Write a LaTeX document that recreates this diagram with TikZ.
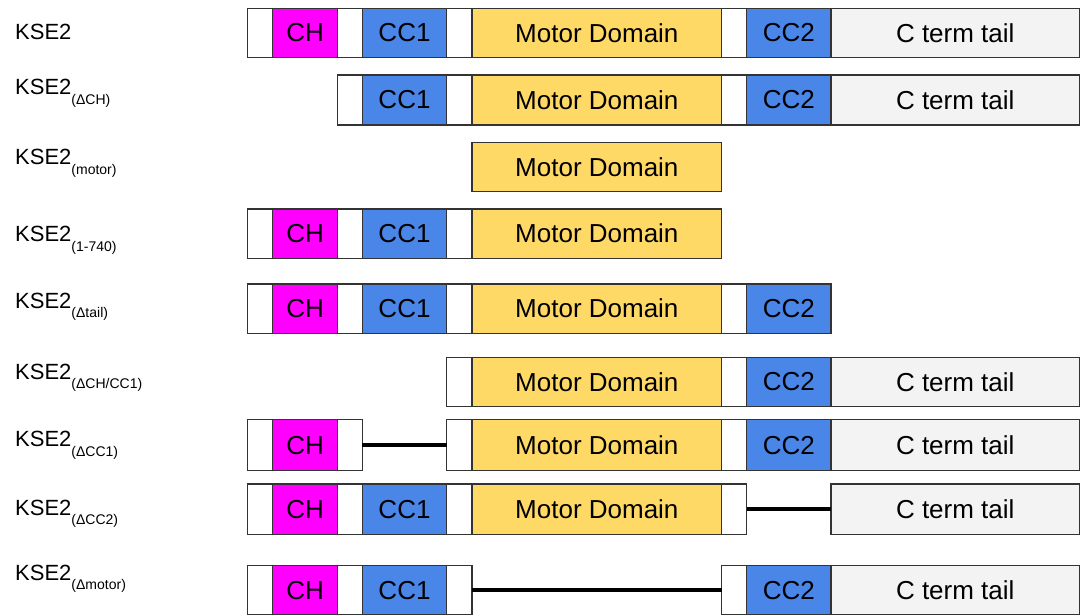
\documentclass[tikz,border=0pt]{standalone}
\usepackage{fontspec}
\setmainfont{Liberation Sans}
\definecolor{chc}{HTML}{FF00FF}
\definecolor{ccc}{HTML}{4A86E8}
\definecolor{mdc}{HTML}{FFD966}
\definecolor{tlc}{HTML}{F3F3F3}
\definecolor{edge}{HTML}{333333}
\tikzset{
  seg/.style={draw=edge, line width=1.2pt, inner sep=0pt, outer sep=0pt,
    font=\fontsize{26}{26}\selectfont, text=black},
  wbox/.style={seg, fill=white},
  chbox/.style={seg, fill=chc},
  ccbox/.style={seg, fill=ccc},
  mdbox/.style={seg, fill=mdc},
  tlbox/.style={seg, fill=tlc},
  gap/.style={line width=4.5pt, black},
  lbl/.style={anchor=base west, inner sep=0pt, font=\fontsize{22}{22}\selectfont}
}
% name, x1, x2, y1, y2, style, text
\newcommand\seg[7]{\node[#6, minimum width={(#3-#2)*1pt}, minimum height={(#5-#4)*1pt}] (#1) at ({(#2+#3)/2},{(#4+#5)/2}) {#7};}
\newcommand\sublbl[1]{\raisebox{-9.5pt}{\fontsize{14}{14}\selectfont(#1)}}
\begin{document}
\begin{tikzpicture}[x=1pt,y=-1pt]
\useasboundingbox (0,0) rectangle (1080,615);
% column edges
\def\xa{247.5}\def\xb{272.5}\def\xc{337.7}\def\xd{362.3}\def\xe{446.7}
\def\xf{472}\def\xg{721.7}\def\xh{746.7}\def\xi{831}\def\xj{1079.5}
% labels
\node[lbl] (l1) at (15,40) {KSE2};
\node[lbl] (l2) at (15,95) {KSE2\sublbl{ΔCH}};
\node[lbl] (l3) at (15,165) {KSE2\sublbl{motor}};
\node[lbl] (l4) at (15,241.7) {KSE2\sublbl{1-740}};
\node[lbl] (l5) at (15,308) {KSE2\sublbl{Δtail}};
\node[lbl] (l6) at (15,379) {KSE2\sublbl{ΔCH/CC1}};
\node[lbl] (l7) at (15,446.7) {KSE2\sublbl{ΔCC1}};
\node[lbl] (l8) at (15,515) {KSE2\sublbl{ΔCC2}};
\node[lbl] (l9) at (15,580) {KSE2\sublbl{Δmotor}};
% row 1
\def\ya{8.3}\def\yb{57.7}
\seg{r1a}{\xa}{\xb}{\ya}{\yb}{wbox}{}
\seg{r1b}{\xb}{\xc}{\ya}{\yb}{chbox}{CH}
\seg{r1c}{\xc}{\xd}{\ya}{\yb}{wbox}{}
\seg{r1d}{\xd}{\xe}{\ya}{\yb}{ccbox}{CC1}
\seg{r1e}{\xe}{\xf}{\ya}{\yb}{wbox}{}
\seg{r1f}{\xf}{\xg}{\ya}{\yb}{mdbox}{Motor Domain}
\seg{r1g}{\xg}{\xh}{\ya}{\yb}{wbox}{}
\seg{r1h}{\xh}{\xi}{\ya}{\yb}{ccbox}{CC2}
\seg{r1i}{\xi}{\xj}{\ya}{\yb}{tlbox}{C term tail}
% row 2
\def\ya{75}\def\yb{125}
\seg{r2c}{\xc}{\xd}{\ya}{\yb}{wbox}{}
\seg{r2d}{\xd}{\xe}{\ya}{\yb}{ccbox}{CC1}
\seg{r2e}{\xe}{\xf}{\ya}{\yb}{wbox}{}
\seg{r2f}{\xf}{\xg}{\ya}{\yb}{mdbox}{Motor Domain}
\seg{r2g}{\xg}{\xh}{\ya}{\yb}{wbox}{}
\seg{r2h}{\xh}{\xi}{\ya}{\yb}{ccbox}{CC2}
\seg{r2i}{\xi}{\xj}{\ya}{\yb}{tlbox}{C term tail}
% row 3
\def\ya{142.3}\def\yb{191.7}
\seg{r3f}{\xf}{\xg}{\ya}{\yb}{mdbox}{Motor Domain}
% row 4
\def\ya{209}\def\yb{258.3}
\seg{r4a}{\xa}{\xb}{\ya}{\yb}{wbox}{}
\seg{r4b}{\xb}{\xc}{\ya}{\yb}{chbox}{CH}
\seg{r4c}{\xc}{\xd}{\ya}{\yb}{wbox}{}
\seg{r4d}{\xd}{\xe}{\ya}{\yb}{ccbox}{CC1}
\seg{r4e}{\xe}{\xf}{\ya}{\yb}{wbox}{}
\seg{r4f}{\xf}{\xg}{\ya}{\yb}{mdbox}{Motor Domain}
% row 5
\def\ya{284}\def\yb{333.3}
\seg{r5a}{\xa}{\xb}{\ya}{\yb}{wbox}{}
\seg{r5b}{\xb}{\xc}{\ya}{\yb}{chbox}{CH}
\seg{r5c}{\xc}{\xd}{\ya}{\yb}{wbox}{}
\seg{r5d}{\xd}{\xe}{\ya}{\yb}{ccbox}{CC1}
\seg{r5e}{\xe}{\xf}{\ya}{\yb}{wbox}{}
\seg{r5f}{\xf}{\xg}{\ya}{\yb}{mdbox}{Motor Domain}
\seg{r5g}{\xg}{\xh}{\ya}{\yb}{wbox}{}
\seg{r5h}{\xh}{\xi}{\ya}{\yb}{ccbox}{CC2}
% row 6
\def\ya{357.3}\def\yb{406.7}
\seg{r6e}{\xe}{\xf}{\ya}{\yb}{wbox}{}
\seg{r6f}{\xf}{\xg}{\ya}{\yb}{mdbox}{Motor Domain}
\seg{r6g}{\xg}{\xh}{\ya}{\yb}{wbox}{}
\seg{r6h}{\xh}{\xi}{\ya}{\yb}{ccbox}{CC2}
\seg{r6i}{\xi}{\xj}{\ya}{\yb}{tlbox}{C term tail}
% row 7
\def\ya{419.8}\def\yb{470.5}
\seg{r7a}{\xa}{\xb}{\ya}{\yb}{wbox}{}
\seg{r7b}{\xb}{\xc}{\ya}{\yb}{chbox}{CH}
\seg{r7c}{\xc}{\xd}{\ya}{\yb}{wbox}{}
\seg{r7e}{\xe}{\xf}{\ya}{\yb}{wbox}{}
\seg{r7f}{\xf}{\xg}{\ya}{\yb}{mdbox}{Motor Domain}
\seg{r7g}{\xg}{\xh}{\ya}{\yb}{wbox}{}
\seg{r7h}{\xh}{\xi}{\ya}{\yb}{ccbox}{CC2}
\seg{r7i}{\xi}{\xj}{\ya}{\yb}{tlbox}{C term tail}
\draw[gap] (r7c.east) -- (r7e.west);
% row 8
\def\ya{484}\def\yb{534.3}
\seg{r8a}{\xa}{\xb}{\ya}{\yb}{wbox}{}
\seg{r8b}{\xb}{\xc}{\ya}{\yb}{chbox}{CH}
\seg{r8c}{\xc}{\xd}{\ya}{\yb}{wbox}{}
\seg{r8d}{\xd}{\xe}{\ya}{\yb}{ccbox}{CC1}
\seg{r8e}{\xe}{\xf}{\ya}{\yb}{wbox}{}
\seg{r8f}{\xf}{\xg}{\ya}{\yb}{mdbox}{Motor Domain}
\seg{r8g}{\xg}{\xh}{\ya}{\yb}{wbox}{}
\seg{r8i}{\xi}{\xj}{\ya}{\yb}{tlbox}{C term tail}
\draw[gap] (r8g.east) -- (r8i.west);
% row 9
\def\ya{565.5}\def\yb{614.8}
\seg{r9a}{\xa}{\xb}{\ya}{\yb}{wbox}{}
\seg{r9b}{\xb}{\xc}{\ya}{\yb}{chbox}{CH}
\seg{r9c}{\xc}{\xd}{\ya}{\yb}{wbox}{}
\seg{r9d}{\xd}{\xe}{\ya}{\yb}{ccbox}{CC1}
\seg{r9e}{\xe}{\xf}{\ya}{\yb}{wbox}{}
\seg{r9g}{\xg}{\xh}{\ya}{\yb}{wbox}{}
\seg{r9h}{\xh}{\xi}{\ya}{\yb}{ccbox}{CC2}
\seg{r9i}{\xi}{\xj}{\ya}{\yb}{tlbox}{C term tail}
\draw[gap] (r9e.east) -- (r9g.west);
\end{tikzpicture}
\end{document}
